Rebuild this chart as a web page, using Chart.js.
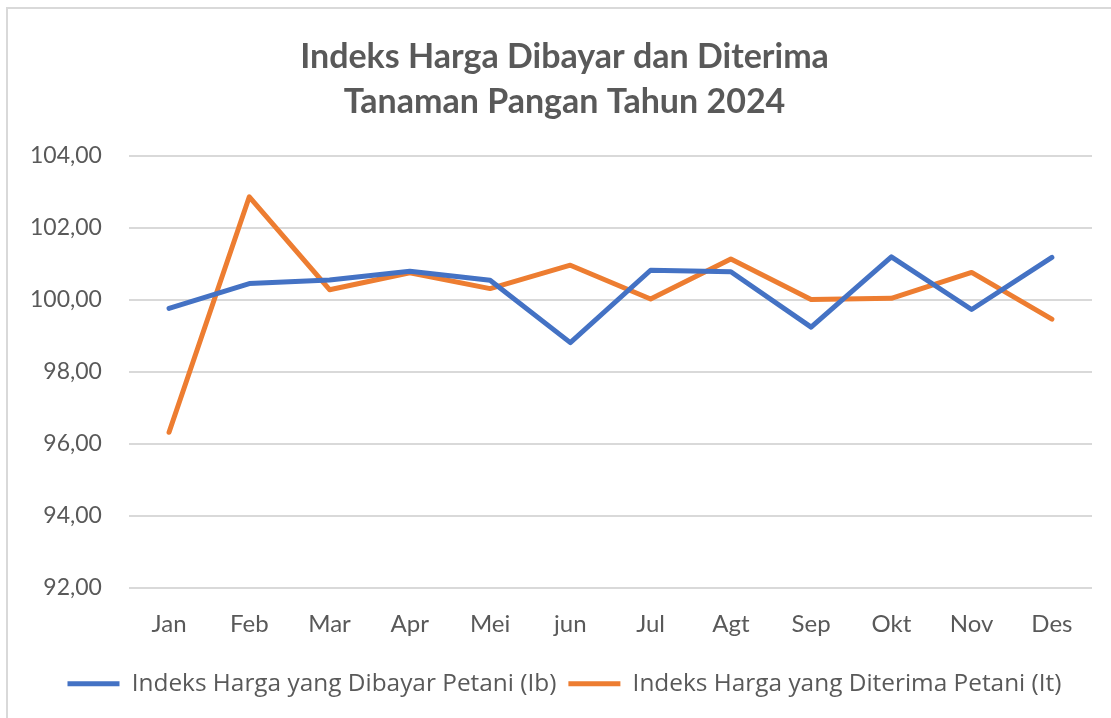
<!DOCTYPE html>
<html>
<head>
<meta charset="utf-8">
<script src="https://cdn.jsdelivr.net/npm/chart.js@4/dist/chart.umd.min.js"></script>
<style>
  html, body { margin: 0; padding: 0; background: #fff; }
  #wrap { position: relative; width: 1111px; height: 718px; overflow: hidden; }
  #frame { position: absolute; left: 6px; top: 7px; width: 1200px; height: 800px; border: 2px solid #d9d9d9; box-sizing: border-box; pointer-events: none; }
  canvas { position: absolute; left: 0; top: 0; }
</style>
</head>
<body>
<div id="wrap">
  <div id="frame"></div>
  <canvas id="c" width="1111" height="718"></canvas>
</div>
<script>
const categories = ["Jan", "Feb", "Mar", "Apr", "Mei", "jun", "Jul", "Agt", "Sep", "Okt", "Nov", "Des"];
const dibayarIb = [99.76, 100.45, 100.55, 100.79, 100.54, 98.81, 100.82, 100.78, 99.24, 101.19, 99.73, 101.18];
const diterimaIt = [96.32, 102.86, 100.28, 100.75, 100.31, 100.96, 100.02, 101.13, 100.01, 100.04, 100.76, 99.46];
const seriesNames = ["Indeks Harga yang Dibayar Petani (Ib)", "Indeks Harga yang Diterima Petani (It)"];
const titleLines = ["Indeks Harga Dibayar dan Diterima", "Tanaman Pangan Tahun 2024"];
const yTicks = { min: 92, max: 104, step: 2 };

const FONT = "Lato, 'Open Sans', sans-serif";
const TEXT = "#595959";

// nudge the title and legend boxes so that they sit like the reference
const boxShift = {
  id: "boxShift",
  afterLayout(chart) {
    const dx = 17;
    if (chart.titleBlock) { chart.titleBlock.left += dx; chart.titleBlock.right += dx; }
    if (chart.legend) {
      chart.legend.left += dx; chart.legend.right += dx;
      chart.legend.top += 7; chart.legend.bottom += 7;
    }
  }
};

new Chart(document.getElementById("c"), {
  type: "line",
  plugins: [boxShift],
  data: {
    labels: categories,
    datasets: [
      { label: seriesNames[0], data: dibayarIb, borderColor: "#4472C4", backgroundColor: "#4472C4",
        borderWidth: 5, pointRadius: 0, tension: 0, borderCapStyle: "round", borderJoinStyle: "round" },
      { label: seriesNames[1], data: diterimaIt, borderColor: "#ED7D31", backgroundColor: "#ED7D31",
        borderWidth: 5, pointRadius: 0, tension: 0, borderCapStyle: "round", borderJoinStyle: "round" }
    ]
  },
  options: {
    responsive: false,
    animation: false,
    layout: { padding: { left: 3, right: 19, top: 35, bottom: 19 } },
    plugins: {
      title: {
        display: true, text: titleLines, color: TEXT,
        font: { family: FONT, size: 34, weight: "bold", lineHeight: 1.32 },
        padding: { top: 0, bottom: 31 }
      },
      legend: {
        position: "bottom",
        labels: {
          color: TEXT,
          font: { family: "'Open Sans', sans-serif", size: 24.4 },
          boxWidth: 52, boxHeight: 5, padding: 12,
          generateLabels(chart) {
            return chart.data.datasets.map((ds, i) => ({
              text: ds.label, fillStyle: ds.borderColor, strokeStyle: ds.borderColor,
              lineWidth: 0, hidden: false, datasetIndex: i, fontColor: TEXT
            }));
          }
        }
      },
      tooltip: { enabled: false }
    },
    scales: {
      x: {
        offset: true,
        grid: { display: false, offset: true },
        border: { display: false },
        ticks: { color: TEXT, font: { family: FONT, size: 24 }, padding: 14 }
      },
      y: {
        min: yTicks.min, max: yTicks.max,
        grid: { color: "#d9d9d9", lineWidth: 2, drawTicks: false },
        border: { display: false },
        ticks: {
          stepSize: yTicks.step, color: TEXT, font: { family: FONT, size: 23 }, padding: 27,
          callback: v => v.toFixed(2).replace(".", ",")
        }
      }
    }
  }
});
</script>
</body>
</html>
